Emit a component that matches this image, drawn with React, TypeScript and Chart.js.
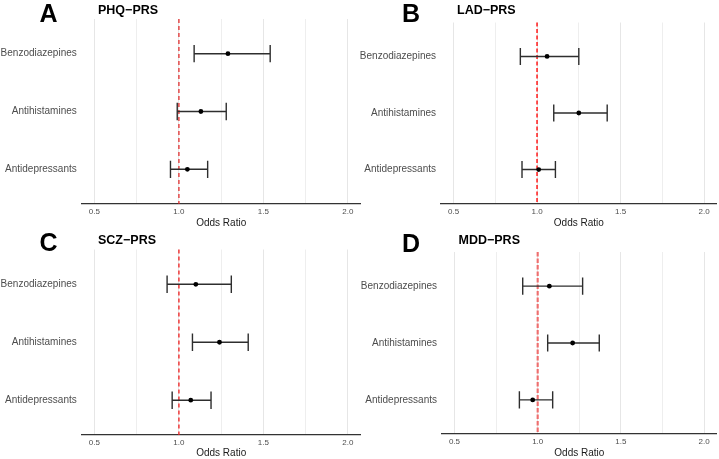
import { useEffect, useRef } from "react";
import { Chart, registerables } from "chart.js";

Chart.register(...registerables);

const FONT = "'Liberation Sans', Arial, Helvetica, sans-serif";

// Drug classes, bottom row first (y = 1, 2, 3)
const drugClasses = ["Antidepressants", "Antihistamines", "Benzodiazepines"];

// Vertical grid positions and their labels on the odds-ratio axis
const xGridValues = [0.5, 0.75, 1.0, 1.25, 1.5, 1.75, 2.0];
const xTickLabels = ["0.5", "", "1.0", "", "1.5", "", "2.0"];
const xMajor = [true, false, true, false, true, false, true];

// PHQ polygenic risk score
const phqOR = [1.05, 1.13, 1.29];
const phqLower = [0.95, 0.99, 1.09];
const phqUpper = [1.17, 1.28, 1.54];

// LAD polygenic risk score
const ladOR = [1.01, 1.25, 1.06];
const ladLower = [0.91, 1.1, 0.9];
const ladUpper = [1.11, 1.42, 1.25];

// SCZ polygenic risk score
const sczOR = [1.07, 1.24, 1.1];
const sczLower = [0.96, 1.08, 0.93];
const sczUpper = [1.19, 1.41, 1.31];

// MDD polygenic risk score
const mddOR = [0.97, 1.21, 1.07];
const mddLower = [0.89, 1.06, 0.91];
const mddUpper = [1.09, 1.37, 1.27];

// No-effect reference
const nullOR = 1.0;

type Panel = {
  letter: string;
  title: string;
  or: number[];
  lower: number[];
  upper: number[];
  left: number;
  top: number;
  width: number;
  height: number;
  plot: { left: number; right: number; top: number; bottom: number };
  letterX: number;
  letterY: number;
  titleX: number;
  titleY: number;
  refColor: string;
  refWidth: number;
  refDash: number[];
};

const panels: Panel[] = [
  {
    letter: "A",
    title: "PHQ\u2212PRS",
    or: phqOR,
    lower: phqLower,
    upper: phqUpper,
    left: 0,
    top: 0,
    width: 363,
    height: 230,
    plot: { left: 81.75, right: 362.25, top: 19, bottom: 204 },
    letterX: 39.5,
    letterY: 22,
    titleX: 98,
    titleY: 14,
    refColor: "#E02020",
    refWidth: 1.2,
    refDash: [4, 3],
  },
  {
    letter: "B",
    title: "LAD\u2212PRS",
    or: ladOR,
    lower: ladLower,
    upper: ladUpper,
    left: 360,
    top: 0,
    width: 359,
    height: 230,
    plot: { left: 81, right: 357, top: 22.5, bottom: 203.5 },
    letterX: 42,
    letterY: 21.5,
    titleX: 97,
    titleY: 14,
    refColor: "#FF1A1A",
    refWidth: 1.5,
    refDash: [4, 2.5],
  },
  {
    letter: "C",
    title: "SCZ\u2212PRS",
    or: sczOR,
    lower: sczLower,
    upper: sczUpper,
    left: 0,
    top: 230,
    width: 363,
    height: 229,
    plot: { left: 81.75, right: 362.25, top: 19.5, bottom: 205 },
    letterX: 39.5,
    letterY: 21,
    titleX: 98,
    titleY: 14,
    refColor: "#F01E1E",
    refWidth: 1.3,
    refDash: [4, 3],
  },
  {
    letter: "D",
    title: "MDD\u2212PRS",
    or: mddOR,
    lower: mddLower,
    upper: mddUpper,
    left: 360,
    top: 230,
    width: 359,
    height: 229,
    plot: { left: 82, right: 358, top: 22, bottom: 204 },
    letterX: 42,
    letterY: 21.5,
    titleX: 98.5,
    titleY: 14,
    refColor: "rgba(238, 60, 60, 0.7)",
    refWidth: 2.2,
    refDash: [4.5, 2],
  },
];

// Half height of the whisker caps, in category units
const CAP_HALF = 0.15;

function ForestPanel({ p }: { p: Panel }) {
  const ref = useRef<HTMLCanvasElement>(null);

  useEffect(() => {
    const canvas = ref.current;
    if (!canvas) return;

    const forestPlugin = {
      id: "forestMarks",
      beforeDatasetsDraw(chart: any) {
        const { ctx, chartArea } = chart;
        const x = chart.scales.x;
        const y = chart.scales.y;
        ctx.save();

        // dashed line at OR = 1
        const xr = x.getPixelForValue(nullOR);
        ctx.strokeStyle = p.refColor;
        ctx.lineWidth = p.refWidth;
        ctx.setLineDash(p.refDash);
        ctx.beginPath();
        ctx.moveTo(xr, chartArea.top);
        ctx.lineTo(xr, chartArea.bottom);
        ctx.stroke();
        ctx.setLineDash([]);

        // confidence-interval whiskers with end caps
        ctx.strokeStyle = "#2E2E2E";
        ctx.lineWidth = 1.4;
        p.or.forEach((_v, i) => {
          const yc = y.getPixelForValue(i + 1);
          const y0 = y.getPixelForValue(i + 1 - CAP_HALF);
          const y1 = y.getPixelForValue(i + 1 + CAP_HALF);
          const xl = x.getPixelForValue(p.lower[i]);
          const xh = x.getPixelForValue(p.upper[i]);
          ctx.beginPath();
          ctx.moveTo(xl, yc);
          ctx.lineTo(xh, yc);
          ctx.moveTo(xl, y0);
          ctx.lineTo(xl, y1);
          ctx.moveTo(xh, y0);
          ctx.lineTo(xh, y1);
          ctx.stroke();
        });
        ctx.restore();
      },
      afterDraw(chart: any) {
        const { ctx } = chart;
        ctx.save();
        ctx.fillStyle = "#000000";
        ctx.textAlign = "left";
        ctx.textBaseline = "alphabetic";
        ctx.font = `bold 25px ${FONT}`;
        ctx.fillText(p.letter, p.letterX, p.letterY);
        ctx.font = `bold 12.5px ${FONT}`;
        ctx.fillText(p.title, p.titleX, p.titleY);
        ctx.restore();
      },
    };

    const chart = new Chart(canvas, {
      type: "scatter",
      data: {
        datasets: [
          {
            data: p.or.map((v, i) => ({ x: v, y: i + 1 })),
            backgroundColor: "#000000",
            borderWidth: 0,
            pointRadius: 2.4,
            pointHoverRadius: 2.4,
          },
        ],
      },
      options: {
        animation: false,
        responsive: false,
        maintainAspectRatio: false,
        devicePixelRatio: 1,
        events: [],
        layout: {
          padding: {
            left: 0,
            top: p.plot.top,
            right: p.width - p.plot.right,
            bottom: 0,
          },
        },
        plugins: {
          legend: { display: false },
          tooltip: { enabled: false },
          title: { display: false },
        },
        scales: {
          x: {
            type: "linear",
            min: 0.425,
            max: 2.075,
            afterBuildTicks: (s: any) => {
              s.ticks = xGridValues.map((v) => ({ value: v }));
            },
            afterFit: (s: any) => {
              s.height = p.height - p.plot.bottom;
            },
            ticks: {
              callback: (_v: any, i: number) => xTickLabels[i],
              font: { family: FONT, size: 8 },
              color: "#4D4D4D",
              padding: 3,
              autoSkip: false,
              maxRotation: 0,
              minRotation: 0,
            },
            grid: {
              color: (c: any) => (xMajor[c.index] ? "#E6E6E6" : "#EEEEEE"),
              lineWidth: 1,
              drawTicks: false,
            },
            border: { display: true, color: "#333333", width: 1.2 },
            title: {
              display: true,
              text: "Odds Ratio",
              font: { family: FONT, size: 10 },
              color: "#1A1A1A",
              padding: { top: 0, bottom: Math.max(0, p.height - 6 - 223) },
            },
          },
          y: {
            type: "linear",
            min: 0.4,
            max: 3.6,
            afterBuildTicks: (s: any) => {
              s.ticks = drugClasses.map((_c, i) => ({ value: i + 1 }));
            },
            afterFit: (s: any) => {
              s.width = p.plot.left;
            },
            ticks: {
              callback: (v: any) => drugClasses[Math.round(Number(v)) - 1],
              font: { family: FONT, size: 10 },
              color: "#4D4D4D",
              padding: 5,
              autoSkip: false,
            },
            grid: { display: false, drawTicks: false },
            border: { display: false },
          },
        },
      },
      plugins: [forestPlugin],
    } as any);

    return () => chart.destroy();
  }, [p]);

  return (
    <div
      style={{
        position: "absolute",
        left: p.left,
        top: p.top,
        width: p.width,
        height: p.height,
      }}
    >
      <canvas
        ref={ref}
        width={p.width}
        height={p.height}
        style={{ display: "block", width: p.width, height: p.height }}
      />
    </div>
  );
}

export default function App() {
  return (
    <div
      style={{
        position: "absolute",
        left: 0,
        top: 0,
        width: 719,
        height: 459,
        background: "#FFFFFF",
        overflow: "hidden",
      }}
    >
      {panels.map((p) => (
        <ForestPanel key={p.letter} p={p} />
      ))}
    </div>
  );
}
